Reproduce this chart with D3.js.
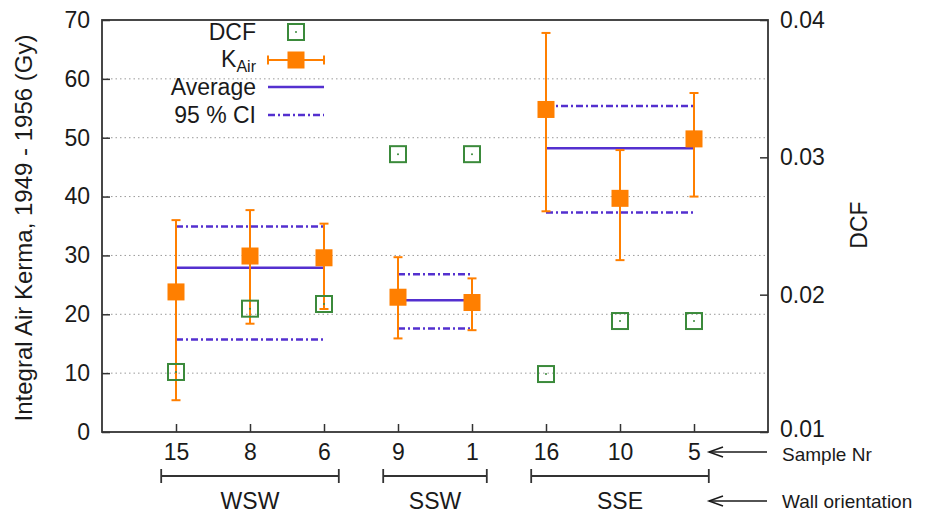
<!DOCTYPE html>
<html>
<head>
<meta charset="utf-8">
<script src="https://cdn.jsdelivr.net/npm/d3@7"></script>
<style>
  html, body { margin: 0; padding: 0; background: #fff; }
  svg { display: block; font-family: "Liberation Sans", Arial, Helvetica, sans-serif; }
</style>
</head>
<body>
<svg id="chart" width="930" height="514"></svg>
<script>
// Sample numbers along the x axis, in plotting order
const samples = ["15", "8", "6", "9", "1", "16", "10", "5"];
// Wall orientation of each sample
const sampleGroup = ["WSW", "WSW", "WSW", "SSW", "SSW", "SSE", "SSE", "SSE"];
const groups = ["WSW", "SSW", "SSE"];

// Integral air kerma (Gy) with lower / upper error bar limits
const kair     = [23.8, 29.9, 29.6, 22.9, 22.0, 54.8, 39.7, 49.8];
const kairLow  = [5.4, 18.4, 20.9, 15.9, 17.3, 37.5, 29.2, 40.0];
const kairHigh = [36.0, 37.7, 35.4, 29.7, 26.1, 67.8, 47.9, 57.6];

// Dose conversion factor per sample (right axis)
const dcf = [0.01437, 0.01898, 0.01932, 0.03023, 0.03023, 0.01422, 0.01808, 0.01808];

// Per-orientation average and 95 % confidence interval (Gy)
const groupAvg    = [27.9, 22.4, 48.2];
const groupCiLow  = [15.7, 17.6, 37.3];
const groupCiHigh = [34.9, 26.8, 55.4];

// Axis ticks
const leftTicks  = [0, 10, 20, 30, 40, 50, 60, 70];
const rightTicks = [0.01, 0.02, 0.03, 0.04];
const gridTicks  = [10, 20, 30, 40, 50, 60];

const C_ORANGE = "#ff7f00";
const C_GREEN  = "#3b8a3b";
const C_PURPLE = "#5430cf";
const C_AXIS   = "#333";
const C_TEXT   = "#1a1a1a";

const svg = d3.select("#chart");
const L = 102, R = 768, T = 20, B = 432;

const x  = d3.scaleLinear().domain([0, 9]).range([L, R]);
const y  = d3.scaleLinear().domain([0, 70]).range([B, T]);
const yR = d3.scaleLinear().domain([0.01, 0.04]).range([B, T]);

// Dotted horizontal grid
svg.append("g").selectAll("line").data(gridTicks).join("line")
  .attr("x1", L).attr("x2", R)
  .attr("y1", d => y(d)).attr("y2", d => y(d))
  .attr("stroke", "#9a9a9a").attr("stroke-width", 1)
  .attr("stroke-dasharray", "1.5,3");

// Axes with inward ticks
function styleAxis(g) {
  g.select(".domain").remove();
  g.selectAll(".tick line").attr("stroke", C_AXIS).attr("stroke-width", 1.5);
  g.selectAll(".tick text").attr("fill", C_TEXT).style("font-size", "23px");
}

svg.append("g").attr("transform", `translate(${L},0)`)
  .call(d3.axisLeft(y).tickValues(leftTicks).tickSizeInner(-8).tickSizeOuter(0).tickPadding(12))
  .call(styleAxis);

const rightAxis = svg.append("g").attr("transform", `translate(${R},0)`)
  .call(d3.axisRight(yR).tickValues(rightTicks).tickFormat(d3.format(".2f"))
    .tickSizeInner(-8).tickSizeOuter(0).tickPadding(12))
  .call(styleAxis);
// lift the bottom right-hand label a little, clear of the "Sample Nr" note
rightAxis.selectAll(".tick").filter(d => d === 0.01).select("text").attr("y", -3);

svg.append("g").attr("transform", `translate(0,${B})`)
  .call(d3.axisBottom(x).tickValues(samples.map((s, i) => i + 1))
    .tickFormat(d => samples[d - 1]).tickSizeInner(-8).tickSizeOuter(0).tickPadding(12))
  .call(styleAxis);

// Plot frame
svg.append("rect").attr("x", L).attr("y", T).attr("width", R - L).attr("height", B - T)
  .attr("fill", "none").attr("stroke", C_AXIS).attr("stroke-width", 1.8);

// Axis titles
svg.append("text").attr("transform", `translate(32,228) rotate(-90)`)
  .attr("text-anchor", "middle").attr("fill", C_TEXT).style("font-size", "24px")
  .text("Integral Air Kerma, 1949 - 1956 (Gy)");
svg.append("text").attr("transform", `translate(867,225) rotate(-90)`)
  .attr("text-anchor", "middle").attr("fill", C_TEXT).style("font-size", "23px")
  .text("DCF");

// Orientation ranges (first and last sample position of each group)
const groupRange = groups.map(g => {
  const idx = sampleGroup.map((s, i) => s === g ? i + 1 : null).filter(v => v !== null);
  return [d3.min(idx), d3.max(idx)];
});

// Average and 95 % CI lines per orientation
const gLines = svg.append("g");
groups.forEach((g, k) => {
  const [a, b] = groupRange[k];
  gLines.append("line").attr("x1", x(a)).attr("x2", x(b))
    .attr("y1", y(groupAvg[k])).attr("y2", y(groupAvg[k]))
    .attr("stroke", C_PURPLE).attr("stroke-width", 2.5);
  [groupCiLow[k], groupCiHigh[k]].forEach(v => {
    gLines.append("line").attr("x1", x(a)).attr("x2", x(b))
      .attr("y1", y(v)).attr("y2", y(v))
      .attr("stroke", C_PURPLE).attr("stroke-width", 2.5)
      .attr("stroke-dasharray", "7,3,2,3");
  });
});

// K_Air error bars and markers
const gK = svg.append("g");
kair.forEach((v, i) => {
  const cx = x(i + 1);
  gK.append("line").attr("x1", cx).attr("x2", cx)
    .attr("y1", y(kairLow[i])).attr("y2", y(kairHigh[i]))
    .attr("stroke", C_ORANGE).attr("stroke-width", 2);
  [kairLow[i], kairHigh[i]].forEach(e => {
    gK.append("line").attr("x1", cx - 4.5).attr("x2", cx + 4.5)
      .attr("y1", y(e)).attr("y2", y(e))
      .attr("stroke", C_ORANGE).attr("stroke-width", 2);
  });
  gK.append("rect").attr("x", cx - 8.5).attr("y", y(v) - 8.5)
    .attr("width", 17).attr("height", 17).attr("fill", C_ORANGE);
});

// DCF open squares on the right axis scale
function dcfMarker(g, cx, cy) {
  g.append("rect").attr("x", cx - 8).attr("y", cy - 8).attr("width", 16).attr("height", 16)
    .attr("fill", "none").attr("stroke", C_GREEN).attr("stroke-width", 2);
  g.append("circle").attr("cx", cx).attr("cy", cy).attr("r", 1).attr("fill", C_GREEN);
}
const gD = svg.append("g");
dcf.forEach((d, i) => dcfMarker(gD, x(i + 1), yR(d)));

// Legend
const lg = svg.append("g");
const lgTextX = 256, lgX1 = 268, lgX2 = 324, lgMid = 296;
const lgY = [32, 60, 87, 115];
lg.append("text").attr("x", lgTextX).attr("y", lgY[0] + 8).attr("text-anchor", "end")
  .attr("fill", C_TEXT).style("font-size", "23px").text("DCF");
dcfMarker(lg, lgMid, lgY[0]);

const kt = lg.append("text").attr("x", lgTextX).attr("y", lgY[1] + 7).attr("text-anchor", "end")
  .attr("fill", C_TEXT).style("font-size", "23px");
kt.append("tspan").text("K");
kt.append("tspan").attr("dy", 5).style("font-size", "16px").text("Air");
lg.append("line").attr("x1", lgX1).attr("x2", lgX2).attr("y1", lgY[1]).attr("y2", lgY[1])
  .attr("stroke", C_ORANGE).attr("stroke-width", 2);
[lgX1, lgX2].forEach(xx => lg.append("line").attr("x1", xx).attr("x2", xx)
  .attr("y1", lgY[1] - 4.5).attr("y2", lgY[1] + 4.5).attr("stroke", C_ORANGE).attr("stroke-width", 2));
lg.append("rect").attr("x", lgMid - 8.5).attr("y", lgY[1] - 8.5).attr("width", 17).attr("height", 17)
  .attr("fill", C_ORANGE);

lg.append("text").attr("x", lgTextX).attr("y", lgY[2] + 8).attr("text-anchor", "end")
  .attr("fill", C_TEXT).style("font-size", "23px").text("Average");
lg.append("line").attr("x1", lgX1).attr("x2", lgX2).attr("y1", lgY[2]).attr("y2", lgY[2])
  .attr("stroke", C_PURPLE).attr("stroke-width", 2.5);

lg.append("text").attr("x", lgTextX).attr("y", lgY[3] + 8).attr("text-anchor", "end")
  .attr("fill", C_TEXT).style("font-size", "23px").text("95 % CI");
lg.append("line").attr("x1", lgX1).attr("x2", lgX2).attr("y1", lgY[3]).attr("y2", lgY[3])
  .attr("stroke", C_PURPLE).attr("stroke-width", 2.5).attr("stroke-dasharray", "7,3,2,3");

// Orientation brackets and labels below the axis
const gB = svg.append("g");
const bracketY = 476;
groups.forEach((g, k) => {
  const [a, b] = groupRange[k];
  const x0 = x(a - 0.2), x1 = x(b + 0.2);
  gB.append("line").attr("x1", x0).attr("x2", x1).attr("y1", bracketY).attr("y2", bracketY)
    .attr("stroke", C_AXIS).attr("stroke-width", 1.8);
  [x0, x1].forEach(xx => gB.append("line").attr("x1", xx).attr("x2", xx)
    .attr("y1", bracketY - 7).attr("y2", bracketY + 7).attr("stroke", C_AXIS).attr("stroke-width", 1.8));
  gB.append("text").attr("x", (x0 + x1) / 2).attr("y", 509).attr("text-anchor", "middle")
    .attr("fill", C_TEXT).style("font-size", "23px").text(g);
});

// Side annotations with arrows
function arrow(yy) {
  gB.append("line").attr("x1", 709).attr("x2", 767).attr("y1", yy).attr("y2", yy)
    .attr("stroke", C_TEXT).attr("stroke-width", 1.5);
  gB.append("polyline").attr("points", `723,${yy - 5} 709,${yy} 723,${yy + 5}`)
    .attr("fill", "none").attr("stroke", C_TEXT).attr("stroke-width", 1.5);
}
arrow(452);
arrow(501);
gB.append("text").attr("x", 782).attr("y", 461).attr("fill", C_TEXT).style("font-size", "19px").text("Sample Nr");
gB.append("text").attr("x", 782).attr("y", 508).attr("fill", C_TEXT).style("font-size", "19px").text("Wall orientation");
</script>
</body>
</html>
